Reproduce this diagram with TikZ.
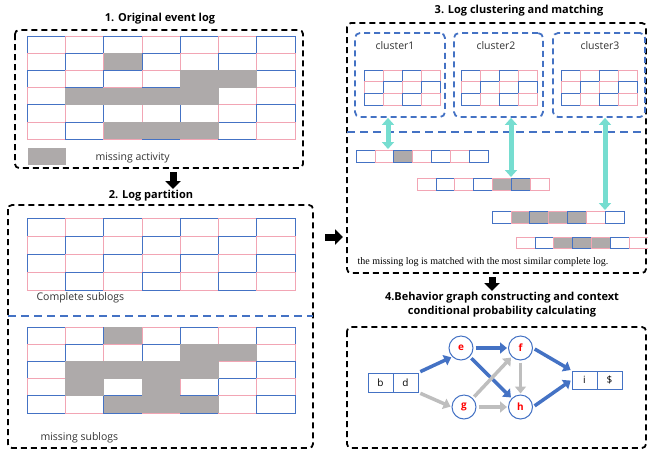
\documentclass[tikz,border=0pt]{standalone}
\usepackage{fontspec}
\setmainfont{Open Sans}
\newfontfamily\notefont{Liberation Serif}
\usetikzlibrary{arrows.meta}

\definecolor{cellblue}{RGB}{68,114,196}
\definecolor{cellpink}{RGB}{242,165,180}
\definecolor{gapgray}{RGB}{174,170,170}
\definecolor{matchteal}{RGB}{118,221,208}
\definecolor{edgegray}{RGB}{190,190,190}

\tikzset{
  cb/.style={draw=cellblue, line width=0.8pt},
  cp/.style={draw=cellpink, line width=0.8pt},
  gb/.style={cb, fill=gapgray},
  gp/.style={cp, fill=gapgray},
  gapfill/.style={fill=gapgray},
  secbox/.style={draw=black, line width=1.8pt, dash pattern=on 6pt off 4pt, rounded corners=4pt},
  clbox/.style={draw=cellblue, line width=1.8pt, dash pattern=on 6pt off 4pt, rounded corners=5pt},
  sepline/.style={draw=cellblue, line width=2.5pt, dash pattern=on 8pt off 5pt},
  steptitle/.style={font=\fontsize{11}{14}\selectfont\bfseries, align=center},
  lbl/.style={font=\fontsize{10.5}{12}\selectfont, text=black!80},
  blkarr/.style={line width=7pt, -{Triangle[width=15pt,length=8pt]}},
  matcharr/.style={draw=matchteal, line width=5pt, {Triangle[width=12pt,length=7pt]}-{Triangle[width=12pt,length=7pt]}},
  vtx/.style={circle, draw=cellblue, line width=1pt, fill=white, minimum size=24pt, inner sep=0pt, text=red, font=\fontsize{10}{12}\selectfont\bfseries},
  tok/.style={rectangle, draw=cellblue, line width=1pt, minimum width=25pt, minimum height=19pt, inner sep=0pt, font=\fontsize{10}{12}\selectfont},
  fwd/.style={draw=cellblue, line width=3.5pt, -{Triangle[width=11pt,length=7pt]}, shorten <=2pt, shorten >=1pt},
  alt/.style={draw=edgegray, line width=3.5pt, -{Triangle[width=11pt,length=7pt]}, shorten <=2pt, shorten >=1pt},
}

% one block of log cells, blue and pink in turn
\newcommand{\logcells}[2]{%
  \foreach \r in {1,...,#2}{
    \foreach \c in {1,...,#1}{
      \pgfmathtruncatemacro{\k}{mod(\r+\c,2)}
      \ifnum\k=0 \def\cs{cb}\else\def\cs{cp}\fi
      \draw[\cs] (\c-1,\r-1) rectangle (\c,\r);
    }
  }%
}
% one trace of the matching step
\newcommand{\matchrow}[1]{%
  \foreach \cl [count=\i from 0] in {#1}{
    \draw[\cl] (\i,0) rectangle (\i+1,1);
  }%
}

\begin{document}
\begin{tikzpicture}[x=1pt,y=-1pt]
\useasboundingbox (0,0) rectangle (648,451);

% 1. original event log
\node[steptitle] (t1) at (160,19) {1. Original event log};
\draw[secbox] (15,30) rectangle (303,168);
\begin{scope}[shift={(27,36)}, x=38.3pt, y=-17.2pt]
  \logcells{7}{6}
  \fill[gapfill] (2,1) rectangle (3,2);
  \fill[gapfill] (4,2) rectangle (6,3);
  \fill[gapfill] (1,3) rectangle (5,4);
  \fill[gapfill] (2,5) rectangle (5,6);
\end{scope}
\fill[gapfill] (28,148) rectangle (66,165);
\node[lbl, anchor=west] (legend) at (92,158) {missing activity};

\coordinate (a1s) at (173,172);
\coordinate (a1e) at (173,189);
\draw[blkarr] (a1s) -- (a1e);

% 2. log partition
\node[steptitle] (t2) at (151,196) {2. Log partition};
\draw[secbox] (8,205) rectangle (313,448);
\begin{scope}[shift={(27,218)}, x=38.3pt, y=-18pt]
  \logcells{7}{4}
\end{scope}
\node[lbl, anchor=west] (comp) at (33,298) {Complete sublogs};
\draw[sepline] (8,316) -- (313,316);
\begin{scope}[shift={(27,327)}, x=38.3pt, y=-17.2pt]
  \logcells{7}{5}
  \fill[gapfill] (2,0) rectangle (3,1);
  \fill[gapfill] (4,1) rectangle (6,2);
  \fill[gapfill] (1,2) rectangle (5,3);
  \fill[gapfill] (1,3) rectangle (2,4);
  \fill[gapfill] (3,3) rectangle (4,4);
  \fill[gapfill] (2,4) rectangle (5,5);
\end{scope}
\node[lbl, anchor=west] (miss) at (37,438) {missing sublogs};

\coordinate (a2s) at (325,237);
\coordinate (a2e) at (343,237);
\draw[blkarr] (a2s) -- (a2e);

% 3. clustering and matching
\node[steptitle] (t3) at (519,11) {3. Log clustering and matching};
\draw[secbox] (347,23) rectangle (646,273);
\node[clbox, minimum width=90pt, minimum height=84pt] (cl1) at (400,75) {};
\node[clbox, minimum width=89pt, minimum height=84pt] (cl2) at (498.5,75) {};
\node[clbox, minimum width=92pt, minimum height=84pt] (cl3) at (599,75) {};
\node[lbl] (n1) at (395,46) {cluster1};
\node[lbl] (n2) at (496,46) {cluster2};
\node[lbl] (n3) at (600,46) {cluster3};
\begin{scope}[shift={(364,70)}, x=19pt, y=-11.7pt]
  \logcells{4}{3}
\end{scope}
\begin{scope}[shift={(461,70)}, x=19pt, y=-11.7pt]
  \logcells{4}{3}
\end{scope}
\begin{scope}[shift={(561,70)}, x=19pt, y=-11.7pt]
  \logcells{4}{3}
\end{scope}
\draw[sepline] (347,132) -- (646,132);

\begin{scope}[shift={(356,150)}, x=18.9pt, y=-12pt]
  \matchrow{cb,cp,gb,cp,cb,cp,cb}
\end{scope}
\begin{scope}[shift={(417,178)}, x=18.9pt, y=-12.5pt]
  \matchrow{cp,cb,cp,cb,gp,gb,cp}
\end{scope}
\begin{scope}[shift={(492,211)}, x=18.9pt, y=-12pt]
  \matchrow{cb,gp,gb,gp,gb,cp,cb}
\end{scope}
\begin{scope}[shift={(516,237)}, x=18.9pt, y=-11.5pt]
  \matchrow{cp,cb,gp,gb,gp,cb,cp}
\end{scope}

\coordinate (m1) at (388,149);
\coordinate (m2) at (511,177);
\coordinate (m3) at (605,210);
\draw[matcharr] (cl1.south -| m1) -- (m1);
\draw[matcharr] (cl2.south -| m2) -- (m2);
\draw[matcharr] (cl3.south -| m3) -- (m3);

\node[font=\notefont\fontsize{10}{12}\selectfont, anchor=west] (note) at (354,262)
  {the missing log is matched with the most similar complete log.};

\coordinate (a3s) at (492,277);
\coordinate (a3e) at (492,291);
\draw[blkarr] (a3s) -- (a3e);

% 4. behavior graph
\node[steptitle] (t4) at (502,305) {4.Behavior graph constructing and context\\conditional probability calculating};
\draw[secbox] (347,327) rectangle (646,448);

\node[tok] (b) at (380.5,382.5) {b};
\node[tok] (d) at (405.5,382.5) {d};
\node[tok, minimum height=18pt] (i) at (584.5,380) {i};
\node[tok, minimum height=18pt] (s) at (609.5,380) {\$};
\node[vtx] (e) at (461,348) {e};
\node[vtx] (f) at (520.5,348) {f};
\node[vtx] (g) at (464,407) {g};
\node[vtx] (h) at (520.5,407) {h};

\draw[fwd] (d.north east) -- (e.south west);
\draw[fwd] (e) -- (f);
\draw[fwd] (e.south east) -- (h.north west);
\draw[fwd] (f.east) -- (i.north west);
\draw[fwd] (h.east) -- (i.west);
\draw[alt] (d.south east) -- (g.west);
\draw[alt] (g.north east) -- (f.south west);
\draw[alt] (g) -- (h);
\draw[alt] (f) -- (h);
\end{tikzpicture}
\end{document}
